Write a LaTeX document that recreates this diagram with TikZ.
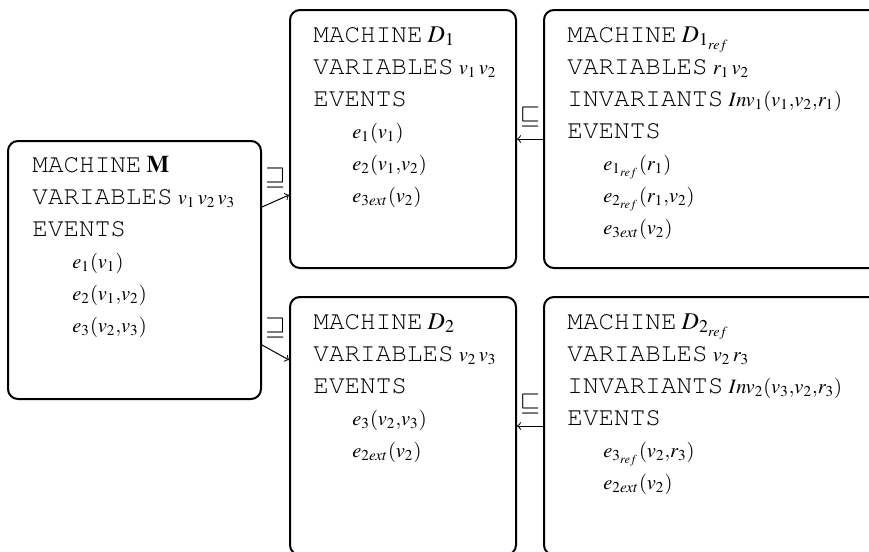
\documentclass[tikz,border=0pt]{standalone}
\usepackage[T1]{fontenc}
\usepackage{mathptmx}
\usepackage{courier}
\newcommand{\kw}[1]{{\fontsize{13}{16}\selectfont\ttfamily #1}}
\newcommand{\mname}[1]{{\fontsize{12}{14}\selectfont$#1$}}
\tikzset{
  machine/.style={draw, line width=1pt, rounded corners=5pt, inner sep=0pt},
  txtline/.style={anchor=base west, inner sep=0pt},
  refine/.style={->, line width=0.5pt},
  rellabel/.style={inner sep=0pt, font=\fontsize{13}{16}\selectfont}
}
\begin{document}
\begin{tikzpicture}[x=0.5pt, y=-0.5pt, font=\fontsize{10.2}{12}\selectfont]
  \clip (0,0) rectangle (869,552);

  % machine frames
  \node[machine, minimum width=126.5pt, minimum height=129pt] (M) at (134.5,270) {};
  \node[machine, minimum width=113pt, minimum height=129pt] (D1) at (403,139) {};
  \node[machine, minimum width=173pt, minimum height=129pt] (D1ref) at (717,139) {};
  \node[machine, minimum width=113pt, minimum height=129pt] (D2) at (403,426) {};
  \node[machine, minimum width=173pt, minimum height=129pt] (D2ref) at (717,426) {};

  % machine M
  \foreach \txt [count=\i from 0] in {{\kw{MACHINE} \mname{\mathbf{M}}}, {\kw{VARIABLES} $v_1\,v_2\,v_3$}, {\kw{EVENTS}}}
    \node[txtline] (Mh\i) at (32,{172.5+32*\i}) {\txt};
  \foreach \txt [count=\i from 0] in {{$e_1(v_1)$}, {$e_2(v_1{,}v_2)$}, {$e_3(v_2{,}v_3)$}}
    \node[txtline] (Me\i) at (72,{268.5+32*\i}) {\txt};

  % machine D1
  \foreach \txt [count=\i from 0] in {{\kw{MACHINE} \mname{D_1}}, {\kw{VARIABLES} $v_1\,v_2$}, {\kw{EVENTS}}}
    \node[txtline] (D1h\i) at (313,{42+32*\i}) {\txt};
  \foreach \txt [count=\i from 0] in {{$e_1(v_1)$}, {$e_2(v_1{,}v_2)$}, {$e_{3ext}(v_2)$}}
    \node[txtline] (D1e\i) at (352,{138+32*\i}) {\txt};

  % machine D1ref
  \foreach \txt [count=\i from 0] in {{\kw{MACHINE} \mname{D_{1_{ref}}}}, {\kw{VARIABLES} $r_1\,v_2$}, {\kw{INVARIANTS} $Inv_1(v_1{,}v_2{,}r_1)$}, {\kw{EVENTS}}}
    \node[txtline] (D1rh\i) at (567,{42+32*\i}) {\txt};
  \foreach \txt [count=\i from 0] in {{$e_{1_{ref}}(r_1)$}, {$e_{2_{ref}}(r_1{,}v_2)$}, {$e_{3ext}(v_2)$}}
    \node[txtline] (D1re\i) at (603,{170+32*\i}) {\txt};

  % machine D2
  \foreach \txt [count=\i from 0] in {{\kw{MACHINE} \mname{D_2}}, {\kw{VARIABLES} $v_2\,v_3$}, {\kw{EVENTS}}}
    \node[txtline] (D2h\i) at (313,{329+32*\i}) {\txt};
  \foreach \txt [count=\i from 0] in {{$e_3(v_2{,}v_3)$}, {$e_{2ext}(v_2)$}}
    \node[txtline] (D2e\i) at (352,{425+32*\i}) {\txt};

  % machine D2ref
  \foreach \txt [count=\i from 0] in {{\kw{MACHINE} \mname{D_{2_{ref}}}}, {\kw{VARIABLES} $v_2\,r_3$}, {\kw{INVARIANTS} $Inv_2(v_3{,}v_2{,}r_3)$}, {\kw{EVENTS}}}
    \node[txtline] (D2rh\i) at (567,{329+32*\i}) {\txt};
  \foreach \txt [count=\i from 0] in {{$e_{3_{ref}}(v_2{,}r_3)$}, {$e_{2ext}(v_2)$}}
    \node[txtline] (D2re\i) at (603,{457+32*\i}) {\txt};

  % refinement relations
  \draw[refine] ([yshift=31.5pt]M.east) -- node[rellabel, above=6.5pt] (r1) {$\sqsupseteq$} ([yshift=-28pt]D1.west);
  \draw[refine] ([yshift=-37.5pt]M.east) -- node[rellabel, above=7pt] (r2) {$\sqsupseteq$} ([yshift=33pt]D2.west);
  \draw[refine] (D1ref.west) -- node[rellabel, above=5.75pt] (r3) {$\sqsubseteq$} (D1.east);
  \draw[refine] (D2ref.west) -- node[rellabel, above=5.75pt] (r4) {$\sqsubseteq$} (D2.east);
\end{tikzpicture}
\end{document}
